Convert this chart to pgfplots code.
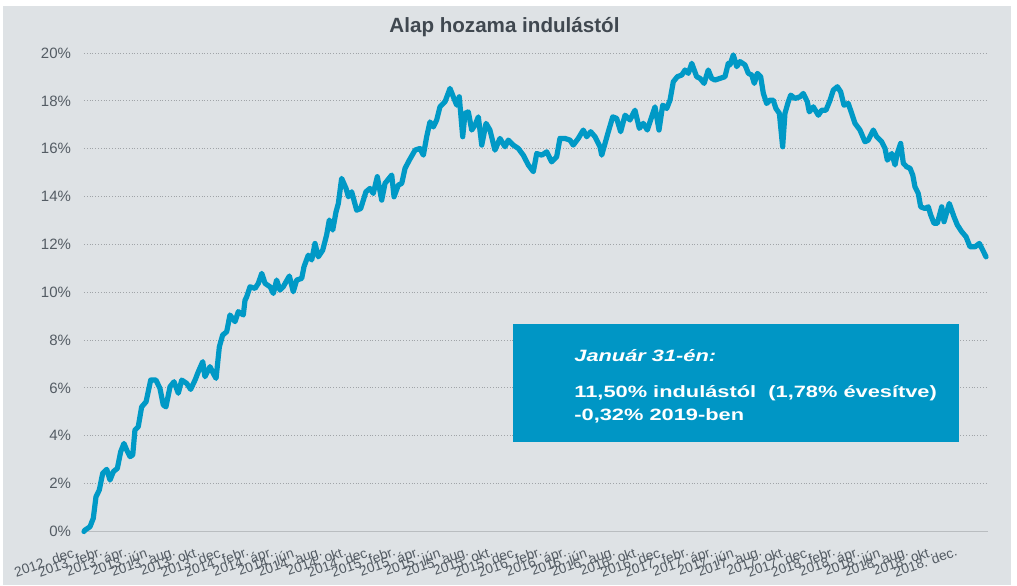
\documentclass[border=0pt]{standalone}
\usepackage{pgfplots}
\pgfplotsset{compat=1.18}
\usepackage{graphicx}
\usepackage{fontspec}
\setmainfont{Liberation Sans}
\definecolor{bgc}{RGB}{222,226,229}
\definecolor{linec}{RGB}{0,153,198}
\definecolor{boxc}{RGB}{0,150,197}
\definecolor{tickc}{RGB}{84,92,100}
\definecolor{titlec}{RGB}{64,72,80}
\definecolor{gridc}{RGB}{160,164,168}
\definecolor{axisc}{RGB}{185,189,192}
\begin{document}
\begin{tikzpicture}
\useasboundingbox (0,0) rectangle (508.5pt,292.5pt);
\fill[white] (0,0) rectangle (508.5pt,292.5pt);
\fill[bgc] (1.5pt,0) rectangle (505.5pt,289.5pt);
\begin{axis}[
  at={(42pt,26.75pt)}, anchor=south west,
  scale only axis, width=452pt, height=239.25pt,
  xmin=0, xmax=74, ymin=0, ymax=20,
  axis line style={draw=none},
  major tick length=0pt,
  ytick={0,2,...,20},
  ymajorgrids, grid style={densely dotted, gridc, line width=0.5pt},
  yticklabel={\pgfmathprintnumber{\tick}\%},
  /pgf/number format/assume math mode=true,
  yticklabel style={font=\fontsize{7.5}{9}\selectfont, text=tickc, anchor=east, xshift=-3pt},
  xtick={0,2,...,72},
  xticklabels={2012. dec.,2013. febr.,2013. ápr.,2013. jún.,2013. aug.,2013. okt.,2013. dec.,2014. febr.,2014. ápr.,2014. jún.,2014. aug.,2014. okt.,2014. dec.,2015. febr.,2015. ápr.,2015. jún.,2015. aug.,2015. okt.,2015. dec.,2016. febr.,2016. ápr.,2016. jún.,2016. aug.,2016. okt.,2016. dec.,2017. febr.,2017. ápr.,2017. jún.,2017. aug.,2017. okt.,2017. dec.,2018. febr.,2018. ápr.,2018. jún.,2018. aug.,2018. okt.,2018. dec.},
  xticklabel style={font=\fontsize{6.9}{7}\selectfont, text=tickc, rotate=19, anchor=north east, xshift=-3pt, yshift=-2pt},
  clip=false,
]
\draw[axisc, line width=0.8pt] (axis cs:0,0) -- (axis cs:74,0);
\addplot[color=linec, line width=2.6pt, line join=round, line cap=round] coordinates {
(0,0) (0.08,0.06) (0.49,0.2) (0.76,0.55) (0.98,1.45) (1.25,1.73) (1.53,2.43) (1.86,2.6) (2.13,2.15) (2.40,2.5) (2.73,2.64) (3.00,3.33) (3.27,3.68) (3.50,3.4) (3.77,3.13) (3.99,3.2) (4.17,4.24) (4.44,4.38) (4.72,5.21) (5.08,5.42) (5.46,6.33) (5.89,6.33) (6.22,5.98) (6.49,5.29) (6.71,5.21) (7.04,6.05) (7.37,6.26) (7.72,5.78) (8.00,6.33) (8.41,6.19) (8.73,5.94) (9.09,6.33) (9.36,6.68) (9.72,7.1) (9.90,6.47) (10.31,6.89) (10.58,6.61) (10.81,6.4) (11.08,7.72) (11.35,8.21) (11.68,8.35) (11.95,9.05) (12.36,8.77) (12.63,9.19) (13.04,9.05) (13.18,9.67) (13.32,9.81) (13.59,10.23) (14.00,10.16) (14.27,10.37) (14.55,10.79) (14.82,10.37) (15.23,10.23) (15.50,9.95) (15.77,10.51) (16.04,10.09) (16.31,10.23) (16.81,10.68) (17.13,10.02) (17.41,10.51) (17.82,10.58) (18.01,11.07) (18.36,11.55) (18.64,11.35) (18.91,12.04) (19.18,11.48) (19.54,11.76) (19.86,12.39) (20.08,13.02) (20.36,12.6) (20.63,13.36) (20.82,13.71) (21.09,14.76) (21.45,14.34) (21.64,13.99) (21.91,14.2) (22.32,13.43) (22.65,13.5) (23.08,14.2) (23.41,14.34) (23.68,14.13) (24.01,14.83) (24.37,13.85) (24.64,14.55) (25.19,14.9) (25.38,13.99) (25.73,14.48) (26.01,14.55) (26.28,15.18) (26.63,15.52) (27.10,15.94) (27.50,16.01) (27.78,15.73) (28.05,16.5) (28.32,17.12) (28.60,16.91) (28.87,17.2) (29.14,17.75) (29.55,17.96) (29.96,18.52) (30.23,18.17) (30.51,17.82) (30.72,18.17) (31.00,16.5) (31.19,17.48) (31.46,17.54) (31.74,16.78) (32.01,16.99) (32.28,17.33) (32.56,16.15) (32.91,17.06) (33.23,16.78) (33.64,15.94) (34.05,16.43) (34.46,16.08) (34.73,16.36) (35.14,16.15) (35.55,16.01) (35.96,15.73) (36.37,15.32) (36.78,15.04) (37.06,15.8) (37.47,15.73) (37.88,15.87) (38.28,15.45) (38.69,15.66) (38.96,16.43) (39.37,16.43) (39.78,16.36) (40.05,16.15) (40.46,16.43) (40.87,16.78) (41.15,16.5) (41.48,16.71) (41.83,16.5) (42.24,16.08) (42.38,15.73) (42.65,16.22) (42.92,16.71) (43.28,17.33) (43.60,17.27) (43.93,16.71) (44.29,17.4) (44.69,17.2) (45.10,17.61) (45.46,16.85) (45.78,17.06) (46.11,16.78) (46.47,17.33) (46.74,17.75) (47.07,16.78) (47.37,17.82) (47.70,17.68) (47.97,18.03) (48.24,18.8) (48.57,19.01) (48.93,19.08) (49.20,19.29) (49.47,19.15) (49.75,19.57) (50.15,19.01) (50.43,18.94) (50.76,18.73) (51.10,19.29) (51.38,18.94) (51.65,18.87) (52.06,18.94) (52.47,19.01) (52.74,19.57) (52.88,19.5) (53.15,19.92) (53.43,19.43) (53.70,19.64) (54.11,19.5) (54.38,19.15) (54.66,19.08) (54.87,18.73) (55.12,19.15) (55.39,19.01) (55.61,18.31) (55.88,17.89) (56.15,18.03) (56.42,18.03) (56.64,17.68) (56.92,17.48) (57.19,16.08) (57.38,17.48) (57.65,17.96) (57.85,18.24) (58.20,18.1) (58.61,18.17) (58.88,18.31) (59.21,17.96) (59.37,17.54) (59.70,17.75) (60.11,17.4) (60.39,17.61) (60.74,17.61) (61.07,18.03) (61.34,18.45) (61.67,18.59) (61.94,18.38) (62.21,17.82) (62.56,17.89) (62.84,17.48) (63.11,17.06) (63.52,16.78) (63.93,16.29) (64.20,16.36) (64.61,16.78) (64.89,16.5) (65.30,16.29) (65.57,16.01) (65.76,15.52) (66.12,15.8) (66.39,15.32) (66.57,15.8) (66.85,16.22) (67.07,15.39) (67.35,15.24) (67.62,15.18) (67.84,14.9) (68.02,14.41) (68.29,14.13) (68.49,13.57) (68.84,13.5) (69.11,13.57) (69.31,13.23) (69.58,12.88) (69.85,12.88) (70.21,13.57) (70.40,12.95) (70.83,13.71) (71.22,13.15) (71.49,12.81) (71.85,12.53) (72.20,12.32) (72.53,11.9) (72.94,11.9) (73.29,12.04) (73.57,11.76) (73.84,11.48)
};
\end{axis}
\node[anchor=base, text=titlec, font=\bfseries\fontsize{10.3}{12}\selectfont, inner sep=0pt] at (252.25pt,276pt) {Alap hozama indulástól};
\fill[boxc] (256.5pt,71.65pt) rectangle (479.5pt,130.5pt);
\node[anchor=base west, inner sep=0pt, text=white, font=\bfseries\itshape\fontsize{8.2}{10}\selectfont] at (287pt,111.65pt) {\scalebox{1.33}[1]{Január 31-én:}};
\node[anchor=base west, inner sep=0pt, text=white, font=\bfseries\fontsize{8.2}{10}\selectfont] at (287pt,94pt) {\scalebox{1.33}[1]{11,50\% indulástól\ \ (1,78\% évesítve)}};
\node[anchor=base west, inner sep=0pt, text=white, font=\bfseries\fontsize{8.2}{10}\selectfont] at (287pt,82.5pt) {\scalebox{1.33}[1]{-0,32\% 2019-ben}};
\end{tikzpicture}
\end{document}
